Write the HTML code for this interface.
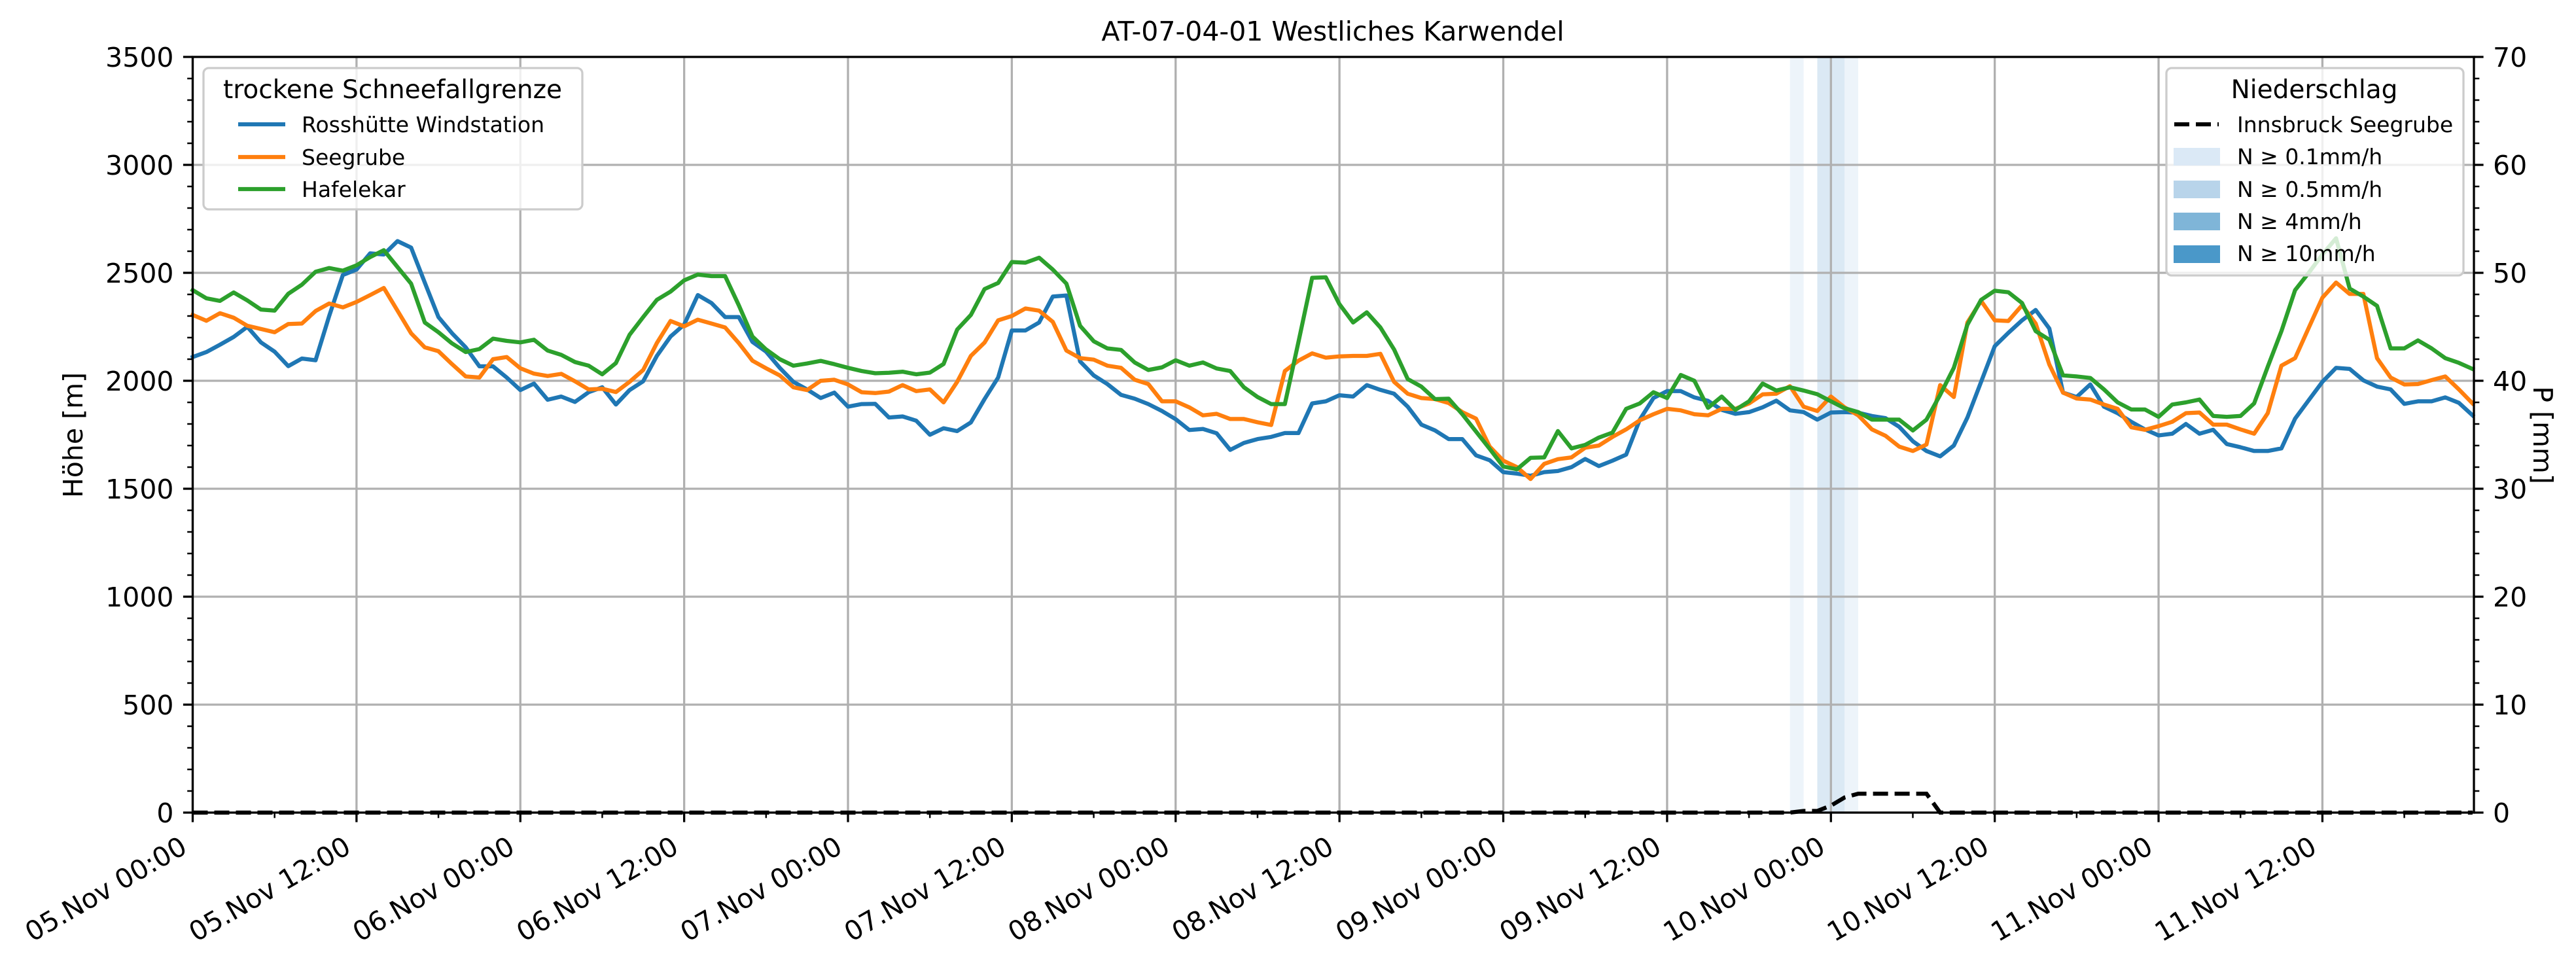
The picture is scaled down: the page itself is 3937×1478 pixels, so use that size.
<!DOCTYPE html>
<html><head><meta charset="utf-8"><style>
html,body{margin:0;padding:0;background:#fff;}
svg{display:block;font-family:"DejaVu Sans","Liberation Sans",sans-serif;}
</style></head><body>
<svg id="chart" xmlns="http://www.w3.org/2000/svg" width="3937" height="1478" viewBox="0 0 3937 1478">
<rect x="0" y="0" width="3937" height="1478" fill="#fff"/>
<text x="2037" y="62" font-size="41" text-anchor="middle">AT-07-04-01 Westliches Karwendel</text>
<text transform="translate(126,665) rotate(-90)" font-size="41" text-anchor="middle">Höhe [m]</text>
<text transform="translate(3872,665) rotate(90)" font-size="41" text-anchor="middle">P [mm]</text>
<g id="bands"></g>
<g id="grid"></g>
<g id="series"></g>
<g id="axes"></g>
<g id="legend1">
<rect x="311" y="104" width="579" height="216" rx="8" fill="#fff" fill-opacity="0.8" stroke="#cccccc" stroke-width="3.3"/>
<text x="600" y="150" font-size="39" text-anchor="middle">trockene Schneefallgrenze</text>
<line x1="364" y1="190" x2="436" y2="190" stroke="#1f77b4" stroke-width="6.25"/>
<text x="461" y="202" font-size="33">Rosshütte Windstation</text>
<line x1="364" y1="240" x2="436" y2="240" stroke="#ff7f0e" stroke-width="6.25"/>
<text x="461" y="252" font-size="33">Seegrube</text>
<line x1="364" y1="289" x2="436" y2="289" stroke="#2ca02c" stroke-width="6.25"/>
<text x="461" y="301" font-size="33">Hafelekar</text>
</g>
<g id="legend2">
<rect x="3311" y="104" width="454" height="317" rx="8" fill="#fff" fill-opacity="0.8" stroke="#cccccc" stroke-width="3.3"/>
<text x="3537" y="150" font-size="39" text-anchor="middle">Niederschlag</text>
<line x1="3323" y1="190" x2="3391" y2="190" stroke="#000" stroke-width="6.25" stroke-dasharray="23,10"/>
<text x="3419" y="202" font-size="33">Innsbruck Seegrube</text>
<rect x="3322" y="226" width="71" height="27" fill="#dbe9f6"/>
<text x="3419" y="251" font-size="33">N ≥ 0.1mm/h</text>
<rect x="3322" y="276" width="71" height="27" fill="#b8d4ea"/>
<text x="3419" y="301" font-size="33">N ≥ 0.5mm/h</text>
<rect x="3322" y="325" width="71" height="27" fill="#7fb5d8"/>
<text x="3419" y="350" font-size="33">N ≥ 4mm/h</text>
<rect x="3322" y="375" width="71" height="27" fill="#4a98c9"/>
<text x="3419" y="399" font-size="33">N ≥ 10mm/h</text>
</g>
</svg>
<script>
const rosshuette = [2110,2133,2167,2203,2250,2178,2135,2068,2103,2095,2300,2490,2515,2590,2585,2647,2617,2455,2295,2220,2155,2067,2067,2015,1957,1987,1912,1927,1902,1947,1970,1890,1957,1998,2115,2205,2260,2397,2360,2295,2295,2180,2135,
2060,1995,1960,1920,1945,1880,1892,1893,1830,1835,1815,1750,1780,1767,1807,1915,2015,2233,2233,2270,2390,2395,2090,2025,1985,1935,1917,1892,1860,1822,1772,1777,1757,1680,1712,1730,1740,1758,1758,1895,1905,1933,1927,
1980,1958,1940,1880,1797,1770,1730,1730,1655,1632,1577,1570,1560,1577,1582,1600,1638,1605,1630,1658,1820,1920,1952,1952,1923,1907,1865,1847,1855,1877,1908,1863,1855,1820,1853,1855,1852,1837,1827,1787,1720,1675,
1650,1700,1830,1995,2160,2222,2280,2328,2242,1945,1925,1983,1880,1850,1810,1775,1747,1755,1800,1755,1773,1707,1692,1675,1675,1687,1825,1910,1995,2060,2055,2002,1973,1960,1893,1905,1905,1923,1898,1840];
const seegrube = [2305,2278,2313,2292,2255,2240,2225,2263,2265,2323,2358,2340,2365,2397,2430,2325,2220,2155,2137,2077,2020,2015,2100,2110,2058,2033,2022,2032,1998,1960,1963,1948,1995,2050,2175,2277,2252,2283,2265,2247,2175,2093,2058,
2025,1970,1957,2000,2005,1983,1947,1943,1950,1980,1952,1960,1900,1995,2115,2177,2280,2300,2335,2325,2273,2140,2105,2098,2070,2060,2005,1985,1905,1905,1877,1840,1847,1823,1823,1808,1795,2045,2093,2127,2107,2113,2115,
2115,2125,1995,1940,1920,1915,1897,1855,1825,1695,1630,1600,1545,1615,1637,1645,1690,1700,1740,1775,1817,1845,1870,1863,1845,1840,1870,1870,1895,1937,1940,1975,1880,1860,1927,1877,1840,1775,1745,1695,1675,1705,
1980,1925,2270,2370,2280,2277,2350,2265,2075,1945,1918,1913,1890,1870,1785,1773,1790,1810,1850,1853,1797,1797,1775,1755,1850,2070,2105,2245,2385,2455,2402,2402,2105,2015,1983,1985,2003,2020,1960,1895];
const hafelekar = [2420,2382,2370,2409,2372,2330,2325,2403,2445,2505,2522,2510,2535,2573,2605,2527,2450,2270,2225,2173,2133,2147,2195,2185,2178,2190,2140,2120,2087,2070,2030,2082,2213,2295,2375,2413,2465,2492,2485,2485,2350,2205,2145,
2100,2070,2080,2092,2077,2060,2045,2035,2037,2042,2030,2038,2078,2237,2305,2425,2453,2550,2547,2570,2515,2450,2255,2183,2150,2143,2085,2050,2062,2095,2070,2085,2057,2045,1970,1925,1892,1892,2180,2477,2479,2355,2270,
2317,2247,2145,2008,1973,1915,1917,1845,1765,1685,1603,1590,1643,1645,1767,1687,1703,1737,1760,1870,1895,1947,1920,2027,2000,1875,1927,1865,1905,1987,1955,1970,1955,1938,1905,1873,1855,1820,1820,1820,1770,1820,
1935,2060,2260,2375,2417,2410,2360,2230,2190,2025,2020,2013,1960,1900,1867,1867,1833,1890,1900,1913,1837,1833,1837,1895,2065,2230,2420,2500,2585,2660,2427,2390,2347,2150,2150,2187,2150,2105,2083,2055];
const precipHours = [117,118,119,120,121,122,123,124,125,126,127,128];
const precipValues = [0,0.15,0.15,0.65,1.4,1.75,1.75,1.75,1.75,1.75,1.75,0];
const bandStart = [117,119,121];
const bandEnd = [118,121,122];
const bandLevel = [0,1,0];
const bandColors = ["#dbe9f6","#b8d4ea"];
const xTickLabels = ["05.Nov 00:00","05.Nov 12:00","06.Nov 00:00","06.Nov 12:00","07.Nov 00:00","07.Nov 12:00","08.Nov 00:00","08.Nov 12:00","09.Nov 00:00","09.Nov 12:00","10.Nov 00:00","10.Nov 12:00","11.Nov 00:00","11.Nov 12:00"];
const yLeftTicks = [0,500,1000,1500,2000,2500,3000,3500];
const yRightTicks = [0,10,20,30,40,50,60,70];

const NS="http://www.w3.org/2000/svg";
const L=294.5,R=3781,T=87,B=1242, XMAX=167.1;
const nPts = rosshuette.length;
const precip = new Array(nPts).fill(0);
precipHours.forEach((h,i)=>{precip[h]=precipValues[i];});
function xs(h){return L+(R-L)*h/XMAX;}
function yl(v){return B-(B-T)*v/3500;}
function yr(v){return B-(B-T)*v/70;}
function mk(tag,attrs,parent){const e=document.createElementNS(NS,tag);for(const k in attrs)e.setAttribute(k,attrs[k]);parent.appendChild(e);return e;}
const gB=document.getElementById('bands'),gG=document.getElementById('grid'),gS=document.getElementById('series'),gA=document.getElementById('axes');

bandStart.forEach((s,i)=>{
  const r=mk('rect',{x:xs(s),y:T,width:xs(bandEnd[i])-xs(s),height:B-T,fill:bandColors[bandLevel[i]],'fill-opacity':0.5},gB);
  
  
});
// grid
xTickLabels.forEach((lab,i)=>{
  const x=xs(i*12);
  const g=mk('line',{x1:x,y1:T,x2:x,y2:B,stroke:'#b0b0b0','stroke-width':3.3},gG);
  
  
});
yLeftTicks.forEach(v=>{
  const y=yl(v);
  const g=mk('line',{x1:L,y1:y,x2:R,y2:y,stroke:'#b0b0b0','stroke-width':3.3},gG);
  
  
});
// series
function line(data,color,name){
  const pts=data.map((v,i)=>xs(i).toFixed(1)+','+yl(v).toFixed(1)).join(' ');
  const p=mk('polyline',{points:pts,fill:'none',stroke:color,'stroke-width':6.25,'stroke-linejoin':'round','stroke-linecap':'square'},gS);
  
  
}
line(rosshuette,'#1f77b4','rosshuette-line');
line(seegrube,'#ff7f0e','seegrube-line');
line(hafelekar,'#2ca02c','hafelekar-line');
const pp=mk('polyline',{points:precip.map((v,i)=>xs(i).toFixed(1)+','+yr(v).toFixed(1)).join(' '),fill:'none',stroke:'#000','stroke-width':6.25,'stroke-dasharray':'23,10'},gS);


// spines
mk('rect',{x:L,y:T,width:R-L,height:B-T,fill:'none',stroke:'#000','stroke-width':3.3},gA);
// x ticks
for(let h=0;h<=XMAX;h+=6){
  const x=xs(h);const major=(h%12===0);
  mk('line',{x1:x,y1:B,x2:x,y2:B+(major?14.6:8.3),stroke:'#000','stroke-width':major?3.3:2.5},gA);
}
xTickLabels.forEach((lab,i)=>{
  const x=xs(i*12);
  const t=mk('text',{transform:`translate(${x-6},${1302}) rotate(-30)`,'font-size':41,'text-anchor':'end'},gA);
  t.textContent=lab;
  
  
});
// left y ticks
for(let v=0;v<=3500;v+=100){
  const y=yl(v);const major=(v%500===0);
  mk('line',{x1:L,y1:y,x2:L-(major?14.6:8.3),y2:y,stroke:'#000','stroke-width':major?3.3:2.5},gA);
}
yLeftTicks.forEach(v=>{
  const t=mk('text',{x:L-29,y:yl(v)+15,'font-size':41,'text-anchor':'end'},gA);
  t.textContent=v;
  
  
});
// right y ticks
for(let v=0;v<=70;v+=2){
  const y=yr(v);const major=(v%10===0);
  mk('line',{x1:R,y1:y,x2:R+(major?14.6:8.3),y2:y,stroke:'#000','stroke-width':major?3.3:2.5},gA);
}
yRightTicks.forEach(v=>{
  const t=mk('text',{x:R+29,y:yr(v)+15,'font-size':41,'text-anchor':'start'},gA);
  t.textContent=v;
  
  
});
</script>
</body></html>
